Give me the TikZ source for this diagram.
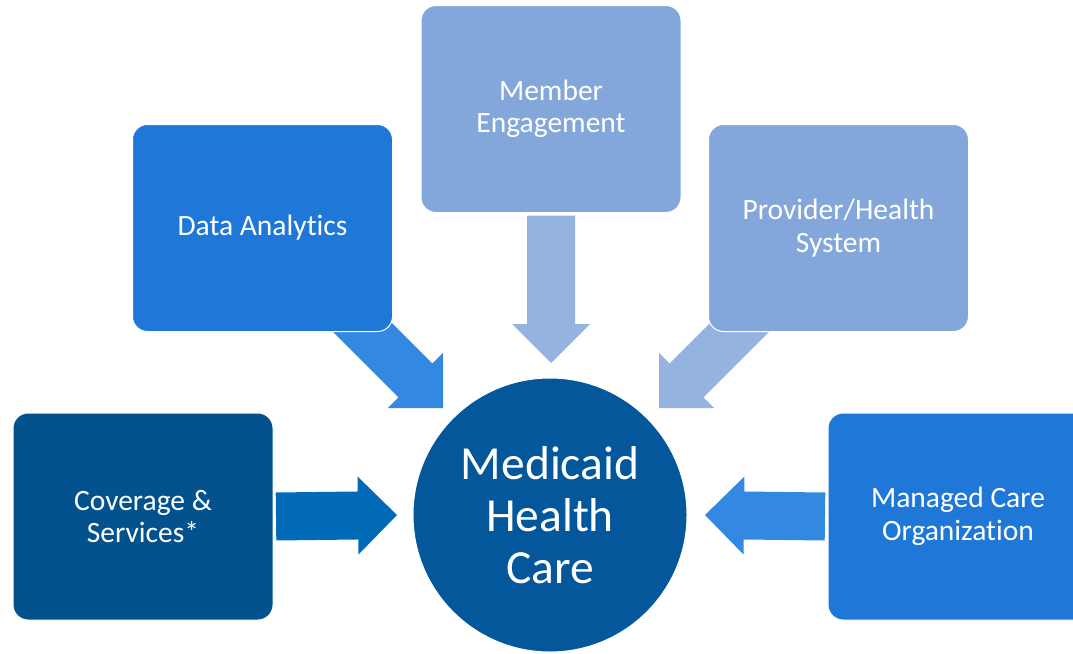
\documentclass[tikz,border=0pt]{standalone}
\usepackage{fontspec}
\newfontfamily\carlito[Ligatures={NoCommon,NoContextual}]{Carlito}
\usetikzlibrary{calc}
\pgfdeclarelayer{bg}
\pgfsetlayers{bg,main}
\definecolor{covc}{HTML}{03528E}
\definecolor{hubc}{HTML}{03579A}
\definecolor{larrc}{HTML}{026BB8}
\definecolor{dac}{HTML}{1F78D8}
\definecolor{daarrc}{HTML}{3388E1}
\definecolor{mec}{HTML}{84A7DB}
\definecolor{mearrc}{HTML}{95B3E0}
\newcommand\blockarr[3]{%
  \coordinate (hb) at ($(#2)!39pt!(#1)$);
  \fill[#3] ($(#1)!24pt!90:(#2)$) -- ($(hb)!24pt!90:(#2)$) -- ($(hb)!39pt!90:(#2)$)
    -- (#2) -- ($(hb)!39pt!-90:(#2)$) -- ($(hb)!24pt!-90:(#2)$) -- ($(#1)!24pt!-90:(#2)$) -- cycle;
}
\tikzset{
  box/.style={rounded corners=15pt, draw=white, line width=1pt, minimum width=260pt,
    minimum height=207pt, inner sep=0pt, outer sep=0pt, text=white, align=center,
    font=\carlito\fontsize{29.5}{32.5}\selectfont},
  hubnode/.style={circle, fill=hubc, draw=white, line width=1pt, minimum size=274pt,
    inner sep=0pt, outer sep=0pt, text=white, align=center,
    font=\carlito\fontsize{47.5}{52}\selectfont}
}
\begin{document}
\begin{tikzpicture}[x=1pt,y=-1pt]
\useasboundingbox (0,0) rectangle (1073,653);
\clip (0,0) rectangle (1073,653);
% nodes
\node[hubnode] (hub) at (550,515) {Medicaid\\Health\\Care};
\node[box, fill=covc] (cov) at (143,516.5) {Coverage \&\\Services*};
\node[box, fill=dac] (da) at (262.5,228) {Data Analytics};
\node[box, fill=mec] (me) at (551,109) {Member\\Engagement};
\node[box, fill=mec] (pr) at (838.5,228) {Provider/Health\\System};
\node[box, fill=dac] (mc) at (958,516.5) {Managed Care\\Organization};
% arrow end points
\coordinate (laS) at ($(cov.east)+(3,0)$);
\coordinate (laT) at ($(hub.west)+(-16,0)$);
\coordinate (raS) at ($(mc.west)+(-3,0)$);
\coordinate (raT) at ($(hub.east)+(18,0)$);
\coordinate (taS) at ($(me.south)+(0,3)$);
\coordinate (taT) at ($(hub.north)+(1,-15)$);
\coordinate (daT) at ($(hub.center)+(-107,-107)$);
\coordinate (daS) at ($(daT)+(-140,-140)$);
\coordinate (prT) at ($(hub.center)+(109,-107)$);
\coordinate (prS) at ($(prT)+(140,-140)$);
\begin{pgfonlayer}{bg}
\blockarr{laS}{laT}{larrc}
\blockarr{raS}{raT}{daarrc}
\blockarr{taS}{taT}{mearrc}
\blockarr{daS}{daT}{daarrc}
\blockarr{prS}{prT}{mearrc}
\end{pgfonlayer}
\end{tikzpicture}
\end{document}
